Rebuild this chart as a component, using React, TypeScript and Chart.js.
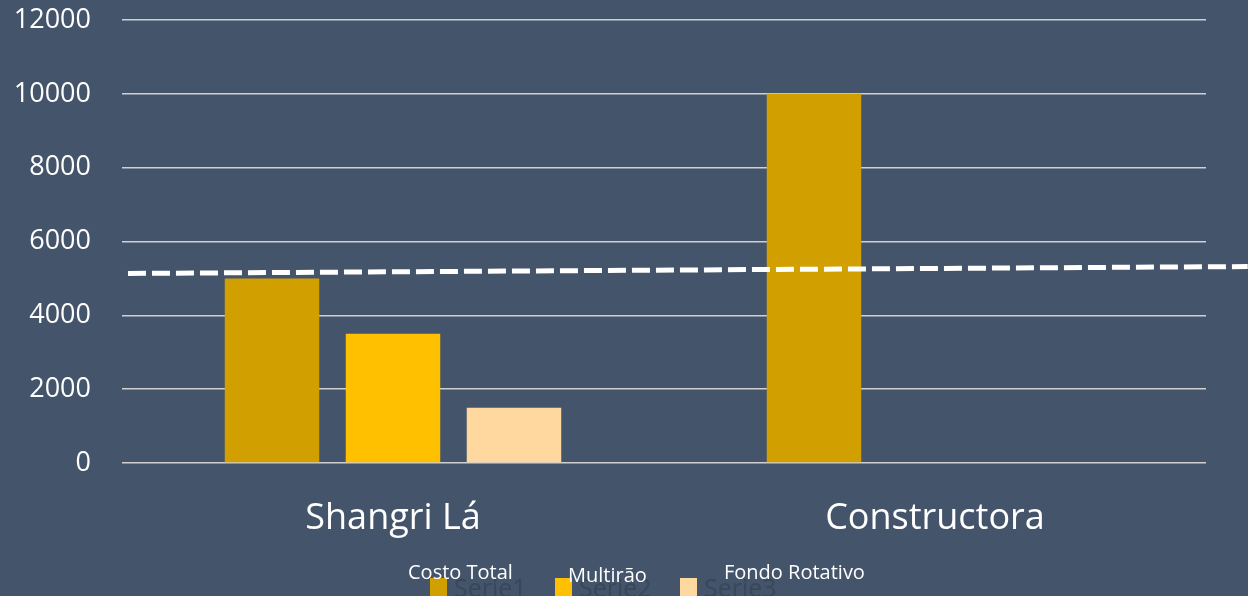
import React, { useEffect, useRef } from "react";
import { Chart, registerables } from "chart.js";

Chart.register(...registerables);

const categories = ["Shangri Lá", "Constructora"];
const seriesNames = ["Costo Total", "Multirão", "Fondo Rotativo"];
const legendDefaultNames = ["Serie1", "Serie2", "Serie3"];
const costoTotal = [5000, 10000];
const multirao = [3500, null];
const fondoRotativo = [1500, null];
// dashed trend line: x in category units (0 = Shangri Lá, 1 = Constructora)
const trendX = [-0.489, 1.577];
const trendY = [5135, 5322];
const yTicksMax = 12000;
const yTicksStep = 2000;

const BG = "#44546A";
const seriesColors = ["#D29F00", "#FFC000", "#FFD89F"];
const FONT = "'Open Sans', sans-serif";

// legend layout (positions only)
const legendLayout = {
  boxLeft: 430,
  step: 125,
  boxTop: 578,
  boxSize: 17,
  textGap: 24,
  labelOffsets: [-22, 13, 44],
  labelBaselines: [579, 582, 579],
};

const bgPlugin = {
  id: "bg",
  beforeDraw(chart: any) {
    const ctx = chart.ctx;
    ctx.save();
    ctx.fillStyle = BG;
    ctx.fillRect(0, 0, chart.width, chart.height);
    ctx.restore();
  },
};

const legendPlugin = {
  id: "customLegend",
  afterDraw(chart: any) {
    const ctx = chart.ctx;
    const L = legendLayout;
    ctx.save();
    seriesNames.forEach((name, i) => {
      const bx = L.boxLeft + i * L.step;
      ctx.fillStyle = seriesColors[i];
      ctx.fillRect(bx, L.boxTop, L.boxSize, L.boxSize + 4);
      ctx.fillStyle = "#38475A";
      ctx.font = `25px ${FONT}`;
      ctx.textBaseline = "alphabetic";
      ctx.textAlign = "left";
      ctx.fillText(legendDefaultNames[i], bx + L.textGap, 597);
    });
    seriesNames.forEach((name, i) => {
      const bx = L.boxLeft + i * L.step;
      ctx.fillStyle = "#FFFFFF";
      ctx.font = `20px ${FONT}`;
      ctx.textBaseline = "alphabetic";
      ctx.textAlign = "left";
      ctx.fillText(name, bx + L.labelOffsets[i], L.labelBaselines[i]);
    });
    ctx.restore();
  },
};

export default function App() {
  const ref = useRef<HTMLCanvasElement | null>(null);
  useEffect(() => {
    document.body.style.margin = "0";
    document.body.style.background = BG;
    const barCommon = {
      type: "bar" as const,
      barPercentage: 0.781,
      categoryPercentage: 0.6697,
      borderWidth: 0,
    };
    const toPoints = (arr: (number | null)[]) => arr.map((y, i) => ({ x: i, y }));
    const chart = new Chart(ref.current as HTMLCanvasElement, {
      type: "bar",
      data: {
        datasets: [
          { ...barCommon, label: seriesNames[0], data: toPoints(costoTotal), backgroundColor: seriesColors[0] },
          { ...barCommon, label: seriesNames[1], data: toPoints(multirao), backgroundColor: seriesColors[1] },
          { ...barCommon, label: seriesNames[2], data: toPoints(fondoRotativo), backgroundColor: seriesColors[2] },
          {
            type: "line" as const,
            label: "Tendencia",
            data: trendX.map((x, i) => ({ x, y: trendY[i] })),
            borderColor: "#FFFFFF",
            borderWidth: 5,
            borderDash: [18, 6],
            pointRadius: 0,
            fill: false,
            clip: false as any,
            order: -1,
          } as any,
        ],
      },
      options: {
        responsive: true,
        maintainAspectRatio: false,
        animation: false,
        layout: { padding: { top: 20, right: 42, left: 0, bottom: 0 } },
        plugins: {
          legend: { display: false },
          tooltip: { enabled: false },
        },
        scales: {
          x: {
            type: "linear",
            offset: false,
            min: -0.5,
            max: categories.length - 0.5,
            grid: { display: false, drawTicks: false },
            border: { display: false },
            afterBuildTicks: (s: any) => {
              s.ticks = categories.map((_, i) => ({ value: i }));
            },
            ticks: {
              color: "#FFFFFF",
              font: { family: FONT, size: 36 },
              padding: 34,
              autoSkip: false,
              maxRotation: 0,
              callback: (v: any) => categories[Math.round(v)] ?? "",
            },
            afterFit: (s: any) => {
              s.height = 133;
              s.paddingLeft = 0;
              s.paddingRight = 0;
            },
          },
          y: {
            min: 0,
            max: yTicksMax,
            grid: { color: "#D0D0D0", lineWidth: 1.5, drawTicks: false },
            border: { display: false },
            ticks: {
              stepSize: yTicksStep,
              color: "#FFFFFF",
              font: { family: FONT, size: 27 },
              padding: 31,
              callback: (v: any) => String(v),
            },
            afterFit: (s: any) => {
              s.width = 122;
              s.paddingTop = 0;
              s.paddingBottom = 0;
            },
          },
        },
      },
      plugins: [bgPlugin, legendPlugin],
    } as any);
    return () => chart.destroy();
  }, []);
  return (
    <div style={{ width: 1248, height: 596, position: "relative" }}>
      <canvas ref={ref} />
    </div>
  );
}
